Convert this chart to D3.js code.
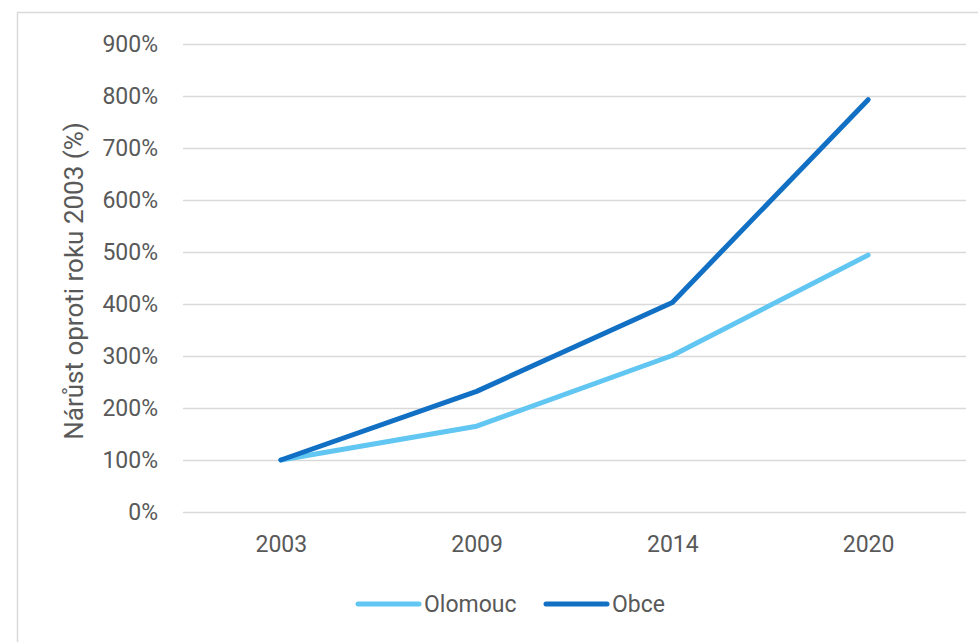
<!DOCTYPE html>
<html>
<head>
<meta charset="utf-8">
<script src="https://cdn.jsdelivr.net/npm/d3@7"></script>
<style>
  body { margin: 0; background: #fff; }
  text { font-family: Roboto, "Liberation Sans", sans-serif; fill: #595959; }
</style>
</head>
<body>
<div class="chart"></div>
<script>
var years = ["2003", "2009", "2014", "2020"];
var olomouc = [100, 165, 301, 494];
var obce = [100, 232, 403, 793];
var yTicks = [0, 100, 200, 300, 400, 500, 600, 700, 800, 900];
var seriesNames = ["Olomouc", "Obce"];
var seriesColors = ["#61c6f1", "#1170c4"];

var W = 978, H = 642,
    margin = {top: 44, right: 12, bottom: 130, left: 183},
    width = W - margin.left - margin.right,
    height = H - margin.top - margin.bottom;

var svg = d3.select(".chart")
  .append("svg")
    .attr("width", W)
    .attr("height", H);

// chart frame
svg.append("rect")
    .attr("x", 17.5)
    .attr("y", 12.5)
    .attr("width", W)
    .attr("height", H)
    .attr("fill", "none")
    .attr("stroke", "#d9d9d9")
    .attr("stroke-width", 1.5);

var g = svg.append("g")
    .attr("transform", "translate(" + margin.left + "," + margin.top + ")");

var x = d3.scalePoint()
    .domain(years)
    .range([0, width])
    .padding(0.5);

var y = d3.scaleLinear()
    .domain([0, 900])
    .range([height, 0]);

// gridlines
g.append("g")
    .attr("class", "grid")
    .call(d3.axisLeft(y).tickValues(yTicks).tickFormat("").tickSize(-width))
    .call(function(s) {
        s.select(".domain").remove();
        s.selectAll("line").attr("stroke", "#d9d9d9").attr("stroke-width", 1.5);
    });

// y axis labels
g.append("g")
    .attr("class", "y axis")
    .call(d3.axisLeft(y).tickValues(yTicks).tickSize(0).tickPadding(25)
        .tickFormat(function(d) { return d + "%"; }))
    .call(function(s) {
        s.select(".domain").remove();
        s.selectAll("text").attr("font-size", "23px").attr("fill", "#595959")
            .attr("font-family", "Roboto, sans-serif");
    });

// x axis labels
g.append("g")
    .attr("class", "x axis")
    .attr("transform", "translate(0," + height + ")")
    .call(d3.axisBottom(x).tickSize(0).tickPadding(24))
    .call(function(s) {
        s.select(".domain").remove();
        s.selectAll("text").attr("font-size", "23px").attr("fill", "#595959")
            .attr("font-family", "Roboto, sans-serif");
    });

// y title
svg.append("text")
    .attr("transform", "translate(83,281) rotate(-90)")
    .attr("text-anchor", "middle")
    .attr("font-size", "26px")
    .text("Nárůst oproti roku 2003 (%)");

var line = d3.line()
    .x(function(d, i) { return x(years[i]); })
    .y(function(d) { return y(d); });

[olomouc, obce].forEach(function(vals, i) {
    g.append("path")
        .datum(vals)
        .attr("fill", "none")
        .attr("stroke", seriesColors[i])
        .attr("stroke-width", 5)
        .attr("stroke-linejoin", "round")
        .attr("stroke-linecap", "round")
        .attr("d", line);
});

// legend
var legendX = [358, 546];
var legend = svg.append("g");
seriesNames.forEach(function(name, i) {
    legend.append("line")
        .attr("x1", legendX[i])
        .attr("x2", legendX[i] + 61)
        .attr("y1", 604)
        .attr("y2", 604)
        .attr("stroke", seriesColors[i])
        .attr("stroke-width", 5)
        .attr("stroke-linecap", "round");
    legend.append("text")
        .attr("x", legendX[i] + 66)
        .attr("y", 612)
        .attr("font-size", "23px")
        .text(name);
});
</script>
</body>
</html>
